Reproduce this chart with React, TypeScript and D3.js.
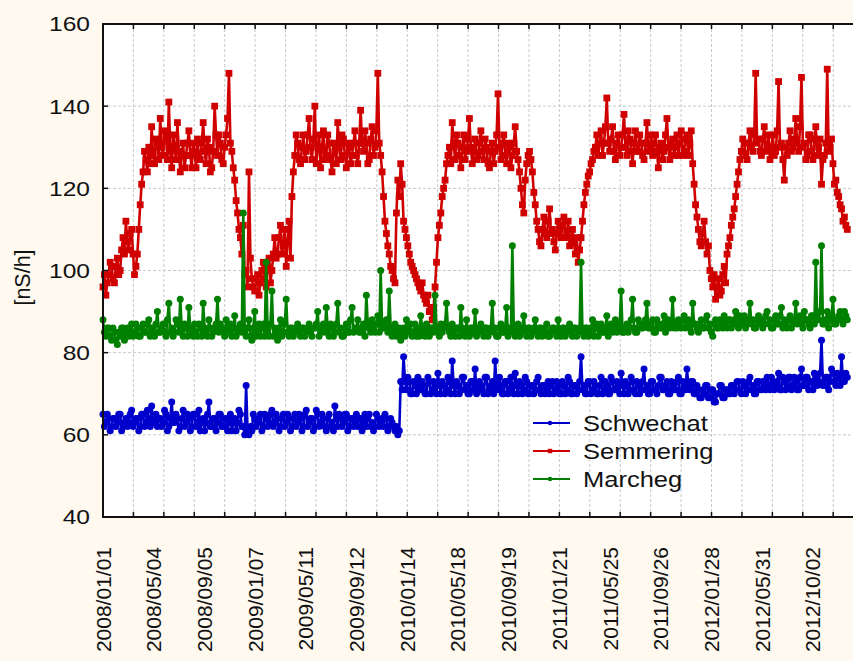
import React from "react";
import * as d3 from "d3";

// ---- data: samples every 3.5 days from 2008/01/01 ----
// "week" arrays hold values at day 7*w, "mid" arrays hold values at day 7*w + 3.5
const WEEK_DAYS = 7;

const schwechatWeek: number[] = [
  65, 63, 64, 62, 64, 63, 65, 62, 64, 63,
  66, 63, 64, 62, 65, 63, 64, 67, 63, 62,
  64, 63, 65, 62, 68, 63, 64, 62, 66, 63,
  64, 62, 65, 63, 61, 64, 63, 68, 62, 64,
  63, 65, 62, 64, 63, 61, 64, 63, 65, 62,
  72, 60, 61, 64, 63, 65, 62, 64, 63, 66,
  63, 64, 62, 65, 63, 64, 62, 65, 63, 64,
  62, 66, 63, 64, 62, 65, 63, 64, 61, 65,
  63, 67, 62, 64, 63, 65, 62, 64, 63, 62,
  64, 63, 62, 65, 63, 62, 64, 63, 62, 64,
  62, 63, 61, 60, 73, 79, 71, 73, 70, 72,
  74, 71, 72, 70, 73, 71, 72, 75, 70, 72,
  71, 73, 78, 70, 72, 71, 74, 72, 70, 73,
  76, 71, 72, 70, 74, 71, 73, 78, 71, 72,
  70, 73, 71, 72, 75, 70, 72, 71, 73, 70,
  72, 71, 74, 70, 72, 71, 70, 73, 71, 72,
  70, 72, 71, 73, 70, 72, 71, 79, 72, 70,
  73, 71, 72, 70, 74, 71, 72, 70, 73, 71,
  72, 75, 70, 72, 71, 73, 70, 72, 71, 76,
  72, 70, 73, 71, 72, 74, 71, 73, 70, 72,
  71, 74, 70, 72, 76, 71, 73, 70, 71, 69,
  70, 72, 69, 71, 68, 70, 72, 69, 71, 70,
  72, 71, 73, 70, 72, 71, 74, 72, 70, 73,
  71, 72, 74, 71, 73, 72, 75, 71, 73, 72,
  74, 72, 73, 71, 76, 72, 74, 73, 71, 74,
  73, 83, 72, 74, 73, 75, 72, 74, 79, 73,
  74,
];
const schwechatMid: number[] = [
  62, 65, 61, 64, 62, 65, 61, 63, 62, 65,
  62, 64, 61, 65, 62, 66, 62, 63, 65, 64,
  62, 66, 61, 64, 63, 65, 61, 64, 62, 65,
  61, 65, 62, 66, 63, 61, 65, 62, 64, 61,
  65, 62, 64, 61, 65, 63, 61, 66, 62, 60,
  61, 62, 65, 62, 64, 61, 65, 62, 65, 62,
  65, 61, 64, 62, 65, 61, 64, 62, 65, 61,
  65, 62, 64, 61, 66, 62, 65, 62, 64, 62,
  61, 64, 65, 62, 65, 61, 64, 62, 65, 64,
  61, 65, 64, 62, 61, 65, 62, 64, 65, 61,
  64, 62, 62, 61, 71, 73, 74, 70, 73, 70,
  71, 73, 70, 74, 70, 73, 70, 72, 73, 70,
  74, 70, 72, 73, 70, 74, 71, 70, 73, 71,
  70, 73, 71, 74, 70, 72, 70, 72, 74, 70,
  73, 70, 74, 70, 72, 73, 70, 74, 70, 72,
  70, 73, 71, 72, 70, 73, 72, 70, 73, 70,
  73, 70, 74, 70, 72, 70, 73, 71, 70, 73,
  70, 73, 70, 72, 70, 73, 70, 74, 71, 73,
  70, 72, 73, 70, 74, 71, 73, 70, 73, 71,
  70, 73, 71, 70, 74, 71, 72, 70, 73, 71,
  73, 70, 73, 71, 72, 73, 70, 72, 69, 71,
  72, 69, 71, 68, 70, 72, 69, 71, 70, 72,
  70, 73, 71, 73, 70, 73, 71, 70, 73, 71,
  73, 71, 72, 74, 71, 73, 71, 74, 71, 74,
  71, 74, 71, 74, 72, 74, 71, 73, 75, 72,
  75, 72, 74, 71, 76, 73, 75, 72, 73, 75,
];

const semmeringWeek: number[] = [
  96, 94, 99, 101, 97, 103, 100, 108, 112, 105,
  110, 99, 104, 116, 124, 127, 130, 135, 126, 131,
  137, 128, 133, 141, 125, 130, 136, 124, 131, 128,
  134, 125, 129, 132, 127, 136, 126, 130, 125, 140,
  128, 131, 126, 133, 148, 129, 122, 114, 108, 111,
  100, 124, 98, 95, 99, 97, 102, 96, 103, 100,
  108, 104, 111, 106, 101, 112, 118, 128, 131, 126,
  133, 129, 137, 127, 140, 130, 125, 134, 128, 131,
  124, 129, 136, 127, 132, 125, 130, 128, 134, 126,
  139, 129, 131, 127, 135, 130, 148, 128, 118, 109,
  104, 100, 97, 122, 126, 112, 108, 104, 101, 99,
  97, 95, 94, 92, 90, 88, 96, 108, 114, 120,
  126, 130, 136, 127, 131, 125, 133, 129, 137, 126,
  132, 128, 134, 127, 130, 125, 131, 129, 143, 127,
  133, 126, 130, 128, 135, 127, 120, 114, 126, 129,
  124, 116, 110, 106, 113, 108, 115, 110, 105, 112,
  108, 113, 109, 106, 110, 104, 102, 108, 116, 121,
  124, 127, 130, 128, 134, 131, 142, 129, 135, 127,
  133, 130, 138, 128, 132, 126, 134, 129, 131, 127,
  136, 130, 128, 133, 125, 131, 129, 137, 127, 132,
  130, 128, 134, 129, 133, 131, 126, 116, 110, 106,
  112, 104, 100, 96, 93, 98, 95, 101, 104, 108,
  113, 118, 124, 129, 131, 127, 134, 129, 148, 132,
  128, 135, 130, 127, 133, 129, 146, 131, 122, 128,
  134, 130, 137, 129, 147, 131, 128, 133, 127, 135,
  130, 121, 128, 149, 130, 126, 122, 118, 115, 113,
  110,
];
const semmeringMid: number[] = [
  99, 97, 102, 98, 101, 99, 105, 104, 107, 109,
  104, 101, 110, 121, 129, 124, 126, 128, 132, 127,
  130, 134, 127, 129, 133, 127, 129, 128, 125, 131,
  128, 131, 125, 128, 131, 129, 132, 124, 129, 133,
  133, 127, 130, 137, 131, 125, 117, 110, 104, 99,
  96, 103, 96, 98, 94, 100, 98, 101, 97, 104,
  103, 108, 104, 110, 107, 103, 124, 133, 127, 130,
  127, 133, 130, 132, 126, 133, 130, 127, 133, 127,
  131, 126, 130, 133, 128, 131, 126, 131, 128, 131,
  131, 134, 126, 132, 128, 134, 131, 124, 112, 106,
  101, 98, 114, 118, 121, 110, 106, 102, 100, 98,
  96, 97, 93, 94, 91, 91, 102, 111, 118, 122,
  128, 126, 131, 133, 128, 130, 127, 132, 130, 129,
  127, 131, 129, 132, 126, 129, 126, 133, 130, 131,
  128, 131, 125, 131, 129, 124, 116, 122, 128, 127,
  119, 112, 107, 110, 109, 112, 109, 107, 109, 110,
  111, 108, 112, 108, 107, 108, 105, 112, 119, 123,
  126, 129, 133, 131, 128, 135, 131, 132, 129, 131,
  128, 133, 130, 134, 129, 131, 129, 133, 128, 131,
  129, 133, 131, 129, 130, 127, 133, 130, 131, 128,
  133, 131, 128, 132, 128, 134, 121, 113, 107, 109,
  107, 106, 98, 99, 96, 94, 99, 97, 106, 111,
  115, 121, 127, 132, 128, 131, 130, 133, 131, 129,
  132, 129, 133, 130, 128, 134, 130, 127, 130, 131,
  129, 132, 131, 135, 130, 127, 133, 129, 132, 128,
  132, 127, 131, 129, 132, 121, 119, 116, 112, 111,
];

const marchegWeek: number[] = [
  88, 84, 86, 83, 85, 82, 84, 86, 85, 84,
  87, 85, 86, 84, 87, 85, 88, 86, 84, 90,
  85, 87, 84, 92, 86, 85, 87, 93, 84, 86,
  91, 85, 87, 84, 86, 92, 85, 88, 84, 86,
  93, 87, 85, 88, 86, 84, 89, 85, 87, 114,
  84, 88, 83, 90, 85, 84, 87, 102, 84, 95,
  86, 83, 88, 85, 93, 84, 86, 85, 87, 84,
  86, 85, 87, 84, 86, 90, 85, 87, 91, 84,
  86, 85, 92, 86, 84, 87, 85, 91, 86, 88,
  85, 87, 94, 86, 88, 85, 89, 100, 86, 88,
  95, 84, 87, 85, 83, 86, 88, 85, 84, 87,
  86, 89, 85, 87, 84, 86, 94, 85, 87, 86,
  92, 85, 87, 84, 86, 91, 85, 88, 84, 86,
  90, 85, 87, 84, 86, 85, 92, 86, 84, 87,
  85, 91, 86, 106, 84, 87, 85, 89, 84, 86,
  85, 88, 84, 86, 85, 87, 84, 86, 85, 88,
  84, 86, 85, 87, 84, 86, 85, 102, 84, 86,
  85, 88, 86, 84, 87, 85, 89, 86, 85, 88,
  86, 95, 85, 87, 86, 93, 85, 88, 86, 87,
  92, 86, 88, 85, 87, 86, 89, 87, 86, 93,
  87, 88, 86, 89, 87, 86, 92, 87, 85, 88,
  86, 89, 87, 84, 88, 86, 87, 89, 86, 88,
  87, 90, 86, 88, 89, 87, 92, 88, 86, 89,
  88, 87, 90, 88, 86, 89, 87, 91, 88, 86,
  89, 87, 92, 88, 87, 90, 88, 86, 89, 102,
  88, 106, 87, 90, 88, 93, 87, 89, 88, 90,
  88,
];
const marchegMid: number[] = [
  85, 86, 84, 86, 83, 85, 86, 83, 86, 85,
  84, 87, 84, 86, 85, 87, 84, 85, 87, 85,
  86, 85, 88, 85, 84, 88, 85, 86, 87, 84,
  86, 84, 85, 87, 84, 86, 84, 86, 85, 87,
  85, 86, 84, 85, 87, 86, 84, 86, 85, 86,
  86, 84, 86, 84, 87, 86, 84, 85, 87, 84,
  85, 86, 84, 87, 85, 86, 84, 86, 85, 86,
  84, 86, 85, 86, 87, 84, 86, 85, 86, 87,
  84, 87, 85, 84, 86, 85, 88, 85, 86, 85,
  86, 84, 87, 85, 86, 87, 85, 86, 87, 85,
  86, 85, 84, 86, 85, 84, 86, 87, 85, 84,
  84, 86, 84, 85, 86, 85, 86, 84, 85, 87,
  86, 84, 85, 86, 84, 86, 84, 85, 86, 85,
  84, 86, 85, 86, 84, 86, 85, 84, 86, 85,
  86, 84, 85, 86, 85, 84, 86, 85, 86, 84,
  86, 85, 86, 84, 86, 84, 85, 86, 84, 85,
  86, 84, 86, 85, 86, 84, 86, 85, 86, 84,
  86, 84, 87, 86, 85, 86, 84, 87, 86, 85,
  87, 85, 86, 85, 88, 86, 85, 87, 86, 88,
  86, 87, 85, 88, 86, 87, 85, 88, 87, 86,
  86, 87, 88, 86, 88, 85, 87, 86, 87, 86,
  88, 86, 85, 87, 86, 88, 86, 87, 88, 86,
  88, 87, 89, 87, 86, 88, 87, 86, 88, 87,
  86, 89, 87, 86, 88, 87, 89, 86, 87, 88,
  86, 88, 87, 89, 86, 88, 87, 89, 87, 88,
  90, 87, 88, 86, 89, 87, 88, 90, 87, 89,
];

const seriesNames = ["Schwechat", "Semmering", "Marcheg"];
const seriesColors = ["#0000CC", "#D00000", "#008000"];
const seriesMarkers = ["circle", "square", "circle"];

const yTicks = [40, 60, 80, 100, 120, 140, 160];
const xLabelStepDays = 124;
const xLabels = [
  "2008/01/01", "2008/05/04", "2008/09/05", "2009/01/07", "2009/05/11",
  "2009/09/12", "2010/01/14", "2010/05/18", "2010/09/19", "2011/01/21",
  "2011/05/25", "2011/09/26", "2012/01/28", "2012/05/31", "2012/10/02",
];
const xTickStepDays = 74.4;

type Pt = { d: number; v: number };
function combine(week: number[], mid: number[]): Pt[] {
  const out: Pt[] = [];
  week.forEach((v, w) => {
    out.push({ d: w * WEEK_DAYS, v });
    if (w < mid.length) out.push({ d: w * WEEK_DAYS + WEEK_DAYS / 2, v: mid[w] });
  });
  return out;
}

export default function App() {
  const W = 853;
  const H = 661;
  const left = 103;
  const top = 24;
  const bottom = 517;
  const right = 857.5;

  const x = d3.scaleLinear().domain([0, 1845]).range([left, right]);
  const y = d3.scaleLinear().domain([40, 160]).range([bottom, top]);

  const allSeries = [
    combine(schwechatWeek, schwechatMid),
    combine(semmeringWeek, semmeringMid),
    combine(marchegWeek, marchegMid),
  ];
  const line = d3
    .line<Pt>()
    .x((p) => x(p.d))
    .y((p) => y(p.v));

  const xTicks: number[] = d3.range(0, 26).map((k) => k * xTickStepDays).filter((d) => x(d) <= W + 5);
  const font = "'Liberation Sans', Arial, sans-serif";
  const grid = "#c8c8c8";

  const marker = (kind: string, cx: number, cy: number, color: string, key: any, s = 1) =>
    kind === "square" ? (
      <rect key={key} x={cx - 3.4 * s} y={cy - 3.4 * s} width={6.8 * s} height={6.8 * s} fill={color} />
    ) : (
      <circle key={key} cx={cx} cy={cy} r={3.5 * s} fill={color} />
    );

  return (
    <svg
      width={W}
      height={H}
      style={{ position: "absolute", left: 0, top: 0, background: "#FFF9EF" }}
    >
      <rect x={0} y={0} width={W} height={H} fill="#FFF9EF" />
      <rect x={left} y={top} width={right - left} height={bottom - top} fill="#ffffff" />
      {/* grid */}
      {xTicks.slice(1).map((d, i) => (
        <line key={"gx" + i} x1={x(d)} x2={x(d)} y1={top} y2={bottom} stroke={grid} strokeDasharray="3,2" strokeWidth={1} />
      ))}
      {yTicks.slice(1, -1).map((v) => (
        <line key={"gy" + v} x1={left} x2={right} y1={y(v)} y2={y(v)} stroke={grid} strokeDasharray="3,2" strokeWidth={1} />
      ))}
      {/* series */}
      {allSeries.map((data, si) => (
        <g key={"s" + si}>
          <path d={line(data) || ""} fill="none" stroke={seriesColors[si]} strokeWidth={2.6} strokeLinejoin="round" />
          {data.map((p, i) => marker(seriesMarkers[si], x(p.d), y(p.v), seriesColors[si], i))}
        </g>
      ))}
      {/* axes */}
      <line x1={left} x2={W + 10} y1={top} y2={top} stroke="#111" strokeWidth={2} />
      <line x1={left} x2={W + 10} y1={bottom} y2={bottom} stroke="#111" strokeWidth={2} />
      <line x1={left} x2={left} y1={top - 1} y2={bottom + 1} stroke="#111" strokeWidth={2} />
      {xTicks.map((d, i) => (
        <g key={"xt" + i}>
          <line x1={x(d)} x2={x(d)} y1={top} y2={top + 5} stroke="#111" strokeWidth={1.5} />
          <line x1={x(d)} x2={x(d)} y1={bottom} y2={bottom - 5} stroke="#111" strokeWidth={1.5} />
        </g>
      ))}
      {yTicks.map((v) => (
        <g key={"yt" + v}>
          <line x1={left} x2={left + 5} y1={y(v)} y2={y(v)} stroke="#111" strokeWidth={1.5} />
          <text
            transform={`translate(90,${y(v)}) scale(1.17,1)`}
            textAnchor="end"
            dominantBaseline="central"
            fontFamily={font}
            fontSize={21}
            fill="#111"
          >
            {v}
          </text>
        </g>
      ))}
      {xLabels.map((lab, i) => {
        const px = x(i * xLabelStepDays);
        return (
          <text
            key={"xl" + i}
            transform={`translate(${px},547) rotate(-90)`}
            textAnchor="end"
            dominantBaseline="central"
            fontFamily={font}
            fontSize={21}
            fill="#111"
          >
            {lab}
          </text>
        );
      })}
      <text
        transform={`translate(23,${(top + bottom) / 2 + 7}) rotate(-90)`}
        textAnchor="middle"
        dominantBaseline="central"
        fontFamily={font}
        fontSize={21.5}
        fill="#111"
      >
        [nS/h]
      </text>
      {/* legend */}
      {seriesNames.map((name, i) => {
        const ly = 423 + i * 28;
        return (
          <g key={"lg" + i}>
            <line x1={533} x2={570} y1={ly} y2={ly} stroke={seriesColors[i]} strokeWidth={1.8} />
            {marker(seriesMarkers[i], 550, ly, seriesColors[i], "m", 0.65)}
            <text
              transform={`translate(583,${ly}) scale(1.16,1)`}
              dominantBaseline="central"
              fontFamily={font}
              fontSize={22}
              fill="#111"
            >
              {name}
            </text>
          </g>
        );
      })}
    </svg>
  );
}
